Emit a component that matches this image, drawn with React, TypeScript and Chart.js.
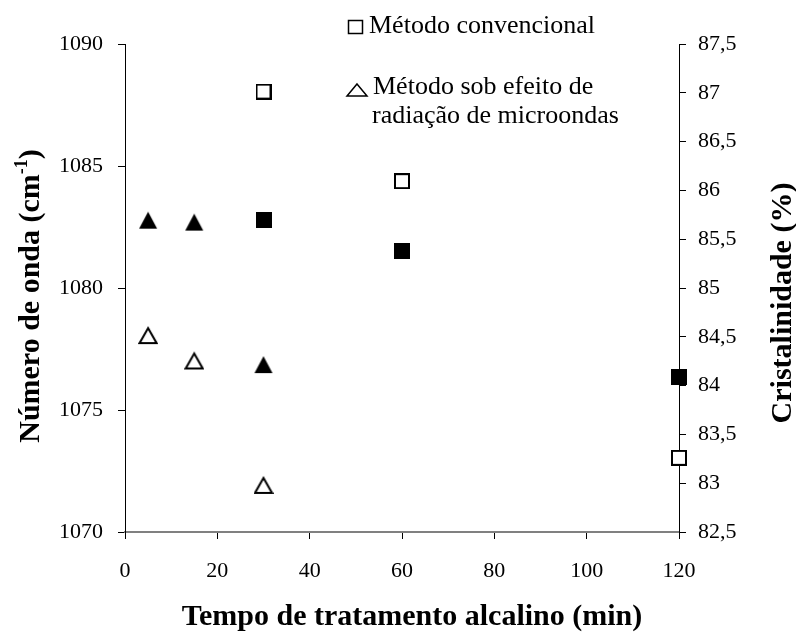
import React, { useEffect, useRef } from "react";
import { Chart, registerables } from "chart.js";

Chart.register(...registerables);

// ---- data ----
const conventionalTimes = [30, 60, 120];
const conventionalWaveNumber = [1088.05, 1084.38, 1073.04];
const conventionalCrystallinity = [85.7, 85.38, 84.09];

const microwaveTimes = [5, 15, 30];
const microwaveWaveNumber = [1078.07, 1077.03, 1071.93];
const microwaveCrystallinity = [85.69, 85.67, 84.21];

const xTickValues = [0, 20, 40, 60, 80, 100, 120];
const yLeftTickValues = [1070, 1075, 1080, 1085, 1090];
const yRightTickValues = [82.5, 83, 83.5, 84, 84.5, 85, 85.5, 86, 86.5, 87, 87.5];

const X_TITLE = "Tempo de tratamento alcalino (min)";
const Y_LEFT_TITLE = "Número de onda (cm";
const Y_LEFT_SUP = "-1";
const Y_RIGHT_TITLE = "Cristalinidade (%)";
const LEGEND_1 = "Método convencional";
const LEGEND_2A = "Método sob efeito de";
const LEGEND_2B = "radiação de microondas";

const FONT = '"Liberation Serif", "Times New Roman", serif';

function makeMarker(kind: "sq" | "tri", filled: boolean): HTMLCanvasElement {
  const c = document.createElement("canvas");
  const ctx = c.getContext("2d")!;
  if (kind === "sq") {
    c.width = 16;
    c.height = 16;
    if (filled) {
      ctx.fillStyle = "#000";
      ctx.fillRect(0, 0, 16, 16);
    } else {
      ctx.fillStyle = "#fff";
      ctx.fillRect(0, 0, 16, 16);
      ctx.strokeStyle = "#000";
      ctx.lineWidth = 2;
      ctx.strokeRect(1, 1, 14, 14);
    }
  } else {
    c.width = 20;
    c.height = 20;
    ctx.beginPath();
    if (filled) {
      ctx.moveTo(10, 1);
      ctx.lineTo(19, 18);
      ctx.lineTo(1, 18);
      ctx.closePath();
      ctx.fillStyle = "#000";
      ctx.fill();
    } else {
      ctx.moveTo(10, 3);
      ctx.lineTo(18.5, 18);
      ctx.lineTo(1.5, 18);
      ctx.closePath();
      ctx.fillStyle = "#fff";
      ctx.fill();
      ctx.strokeStyle = "#000";
      ctx.lineWidth = 2;
      ctx.lineJoin = "miter";
      ctx.stroke();
    }
  }
  return c;
}

const fmtComma = (v: number) => {
  const r = Math.round(v * 10) / 10;
  return Number.isInteger(r) ? String(r) : r.toFixed(1).replace(".", ",");
};

const overlayPlugin = {
  id: "overlay",
  afterDraw(chart: any) {
    const ctx: CanvasRenderingContext2D = chart.ctx;
    ctx.save();
    ctx.fillStyle = "#000";
    ctx.strokeStyle = "#000";
    ctx.textBaseline = "alphabetic";

    // bottom title
    ctx.font = `bold 30px ${FONT}`;
    ctx.textAlign = "center";
    ctx.fillText(X_TITLE, 412, 625);

    // right title
    ctx.save();
    ctx.translate(791, 303);
    ctx.rotate(-Math.PI / 2);
    ctx.textAlign = "center";
    ctx.fillText(Y_RIGHT_TITLE, 0, 0);
    ctx.restore();

    // left title with superscript
    ctx.save();
    ctx.translate(39, 296);
    ctx.rotate(-Math.PI / 2);
    ctx.textAlign = "left";
    ctx.font = `bold 30px ${FONT}`;
    const w1 = ctx.measureText(Y_LEFT_TITLE).width;
    const w3 = ctx.measureText(")").width;
    ctx.font = `bold 18px ${FONT}`;
    const w2 = ctx.measureText(Y_LEFT_SUP).width;
    let x = -(w1 + w2 + w3) / 2;
    ctx.font = `bold 30px ${FONT}`;
    ctx.fillText(Y_LEFT_TITLE, x, 0);
    x += w1;
    ctx.font = `bold 18px ${FONT}`;
    ctx.fillText(Y_LEFT_SUP, x, -12);
    x += w2;
    ctx.font = `bold 30px ${FONT}`;
    ctx.fillText(")", x, 0);
    ctx.restore();

    // legend
    ctx.font = `26px ${FONT}`;
    ctx.textAlign = "left";
    ctx.lineWidth = 1.5;
    ctx.strokeRect(348.5, 20.5, 14, 13);
    ctx.fillText(LEGEND_1, 369, 33);
    ctx.beginPath();
    ctx.moveTo(357, 84);
    ctx.lineTo(367, 96);
    ctx.lineTo(347, 96);
    ctx.closePath();
    ctx.stroke();
    ctx.fillText(LEGEND_2A, 373, 94);
    ctx.fillText(LEGEND_2B, 372, 123);
    ctx.restore();
  },
};

export default function App() {
  const ref = useRef<HTMLCanvasElement | null>(null);

  useEffect(() => {
    if (!ref.current) return;
    const sqOpen = makeMarker("sq", false);
    const sqFilled = makeMarker("sq", true);
    const triOpen = makeMarker("tri", false);
    const triFilled = makeMarker("tri", true);

    const toPts = (xs: number[], ys: number[]) => xs.map((x, i) => ({ x, y: ys[i] }));

    const tickFont = { family: FONT, size: 22 };
    const gridCommon = {
      display: true,
      drawOnChartArea: false,
      drawTicks: true,
      tickLength: 7,
      color: "#000",
      tickColor: "#000",
      lineWidth: 1,
    };

    const chart = new Chart(ref.current, {
      type: "scatter",
      data: {
        datasets: [
          {
            label: "conv-left",
            data: toPts(conventionalTimes, conventionalWaveNumber),
            yAxisID: "y",
            pointStyle: sqOpen as any,
            pointRadius: 9,
            clip: false as any,
          },
          {
            label: "conv-right",
            data: toPts(conventionalTimes, conventionalCrystallinity),
            yAxisID: "y1",
            pointStyle: sqFilled as any,
            pointRadius: 9,
            clip: false as any,
          },
          {
            label: "mw-left",
            data: toPts(microwaveTimes, microwaveWaveNumber),
            yAxisID: "y",
            pointStyle: triOpen as any,
            pointRadius: 9,
            clip: false as any,
          },
          {
            label: "mw-right",
            data: toPts(microwaveTimes, microwaveCrystallinity),
            yAxisID: "y1",
            pointStyle: triFilled as any,
            pointRadius: 9,
            clip: false as any,
          },
        ],
      },
      options: {
        responsive: false,
        animation: false,
        devicePixelRatio: 1,
        layout: { padding: { top: 44, left: 0, right: 0, bottom: 0 } },
        plugins: {
          legend: { display: false },
          tooltip: { enabled: false },
        },
        events: [],
        scales: {
          x: {
            type: "linear",
            position: "bottom",
            min: xTickValues[0],
            max: xTickValues[xTickValues.length - 1],
            afterBuildTicks: (s: any) => {
              s.ticks = xTickValues.map((v) => ({ value: v }));
            },
            ticks: {
              font: tickFont,
              color: "#000",
              padding: 19,
              maxRotation: 0,
              callback: (v: any) => String(v),
            },
            grid: gridCommon,
            border: { display: true, color: "#808080", width: 2 },
            afterFit: (s: any) => {
              s.height = 103;
            },
          },
          y: {
            type: "linear",
            position: "left",
            min: yLeftTickValues[0],
            max: yLeftTickValues[yLeftTickValues.length - 1],
            afterBuildTicks: (s: any) => {
              s.ticks = yLeftTickValues.map((v) => ({ value: v }));
            },
            ticks: {
              font: tickFont,
              color: "#000",
              padding: 15,
              callback: (v: any) => String(v),
            },
            grid: gridCommon,
            border: { display: true, color: "#000", width: 1 },
            afterFit: (s: any) => {
              s.width = 125;
            },
          },
          y1: {
            type: "linear",
            position: "right",
            min: yRightTickValues[0],
            max: yRightTickValues[yRightTickValues.length - 1],
            afterBuildTicks: (s: any) => {
              s.ticks = yRightTickValues.map((v) => ({ value: v }));
            },
            ticks: {
              font: tickFont,
              color: "#000",
              padding: 12,
              callback: (v: any) => fmtComma(Number(v)),
            },
            grid: gridCommon,
            border: { display: true, color: "#000", width: 1 },
            afterFit: (s: any) => {
              s.width = 117;
            },
          },
        },
      },
      plugins: [overlayPlugin],
    } as any);

    return () => chart.destroy();
  }, []);

  return (
    <div style={{ position: "fixed", left: 0, top: 0, width: 796, height: 635, background: "#fff" }}>
      <canvas ref={ref} width={796} height={635} />
    </div>
  );
}
